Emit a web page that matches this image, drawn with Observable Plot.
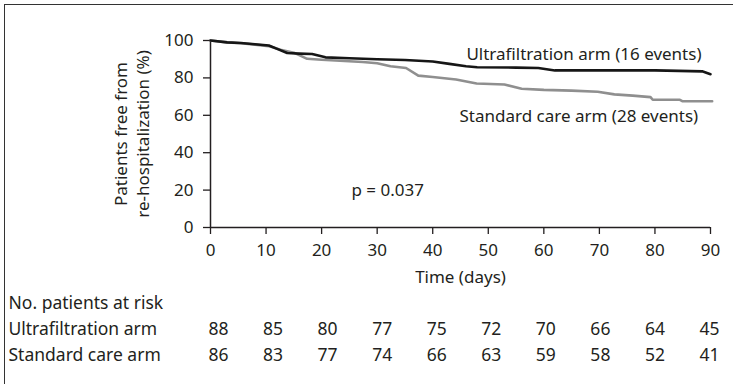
<!DOCTYPE html>
<html><head><meta charset="utf-8">
<script src="https://cdn.jsdelivr.net/npm/d3@7"></script>
<script src="https://cdn.jsdelivr.net/npm/@observablehq/plot@0.6"></script>
<style>
html,body{margin:0;padding:0;background:#fff;overflow:hidden;width:733px;height:384px}
#frame{position:absolute;left:4px;top:4px;width:800px;height:500px;border-left:1.5px solid #333;border-top:1.5px solid #333;box-sizing:border-box}
#chart{position:absolute;left:0;top:0;width:733px}
#chart svg{display:block}
</style></head><body><div id="frame"></div><div id="chart"></div>
<script>
// Kaplan-Meier curves (days, % free from re-hospitalization)
const ufDays = [0, 3, 5.5, 8, 10.5, 12, 13.8, 16, 18.3, 20.7, 25, 30, 35, 40, 43, 46, 48, 55, 59, 62, 70, 80, 88.5, 90];
const ufSurv = [100, 99, 98.7, 98, 97.3, 95.5, 93.3, 93, 92.8, 91, 90.5, 90, 89.6, 88.8, 87.5, 86.2, 85.7, 85.5, 85.3, 84, 84, 84, 83.5, 82];
const scDays = [0, 3, 5.5, 8, 10.5, 12.6, 15, 17.4, 20, 27.4, 30, 32.4, 35.2, 37.4, 40, 44.2, 47.9, 52.9, 56, 60, 65, 69.7, 72.7, 76, 79.2, 79.6, 84.5, 85, 90.3];
const scSurv = [100, 99, 98.5, 97.8, 97, 95, 93.5, 90.2, 89.7, 88.5, 87.8, 86.2, 85.3, 81.2, 80.5, 79.1, 77, 76.5, 74.2, 73.6, 73.2, 72.6, 71.2, 70.5, 69.7, 68.3, 68.3, 67.5, 67.5];

const xTicks = [0, 10, 20, 30, 40, 50, 60, 70, 80, 90];
const yTicks = [0, 20, 40, 60, 80, 100];
const armNames = ["Ultrafiltration arm", "Standard care arm"];
const armLabels = ["Ultrafiltration arm (16 events)", "Standard care arm (28 events)"];
const armColors = ["#161616", "#8f8f8f"];
const riskUF = [88, 85, 80, 77, 75, 72, 70, 66, 64, 45];
const riskSC = [86, 83, 77, 74, 66, 63, 59, 58, 52, 41];
const riskHeader = "No. patients at risk";
const pValue = "p = 0.037";
const xLabel = "Time (days)";
const yLabel = "Patients free from\nre-hospitalization (%)";

const uf = ufDays.map((d, i) => ({day: d, surv: ufSurv[i], arm: armNames[0]}));
const sc = scDays.map((d, i) => ({day: d, surv: scSurv[i], arm: armNames[1]}));
const ink = "#231f20";
const font = {fontFamily: "'Noto Sans', sans-serif", fontSize: "17px", color: ink, background: "transparent"};

const main = Plot.plot({
  width: 733, height: 290,
  marginLeft: 210, marginRight: 23, marginTop: 40, marginBottom: 63,
  style: font,
  x: {domain: [0, 90]},
  y: {domain: [0, 100]},
  marks: [
    Plot.axisX({ticks: xTicks, tickSize: 7, tickPadding: 9, label: null, stroke: ink, strokeWidth: 1.3}),
    Plot.axisY({ticks: yTicks, tickSize: 7, tickPadding: 10, label: null, stroke: ink, strokeWidth: 1.3}),
    Plot.ruleX([0], {stroke: ink, strokeWidth: 1.5}),
    Plot.ruleY([0], {stroke: ink, strokeWidth: 1.5}),
    Plot.line(sc, {x: "day", y: "surv", stroke: armColors[1], strokeWidth: 2.6}),
    Plot.line(uf, {x: "day", y: "surv", stroke: armColors[0], strokeWidth: 2.6}),
    Plot.text(uf, Plot.selectLast({x: "day", y: "surv", text: () => armLabels[0], textAnchor: "end", dx: -9, dy: -20, fill: ink})),
    Plot.text(sc, Plot.selectLast({x: "day", y: "surv", text: () => armLabels[1], textAnchor: "end", dx: -14, dy: 15, fill: ink})),
    Plot.text([pValue], {text: d => d, frameAnchor: "bottom-left", textAnchor: "start", dx: 141, dy: -32, fill: ink}),
    Plot.text([xLabel], {text: d => d, frameAnchor: "bottom", dy: 55, fill: ink}),
    Plot.text([yLabel], {text: d => d, frameAnchor: "left", textAnchor: "middle", rotate: -90, dx: -80, lineHeight: 1.3, fill: ink})
  ]
});

const riskRows = xTicks.flatMap((t, i) => [
  {day: t, arm: armNames[0], n: riskUF[i]},
  {day: t, arm: armNames[1], n: riskSC[i]}
]);

const table = Plot.plot({
  width: 733, height: 94,
  marginLeft: 218, marginRight: 24, marginTop: 13, marginBottom: 29,
  style: {...font, fontSize: "17.5px"},
  x: {domain: [0, 90], axis: null},
  y: {type: "point", domain: [riskHeader, ...armNames], padding: 0, axis: null},
  marks: [
    Plot.text(riskRows, {x: "day", y: "arm", text: "n", fill: ink}),
    Plot.text([riskHeader, ...armNames], {y: d => d, text: d => d, frameAnchor: "left", textAnchor: "start", dx: -210, fill: ink})
  ]
});

const host = document.getElementById("chart");
host.appendChild(main);
host.appendChild(table);
</script>
</body></html>
